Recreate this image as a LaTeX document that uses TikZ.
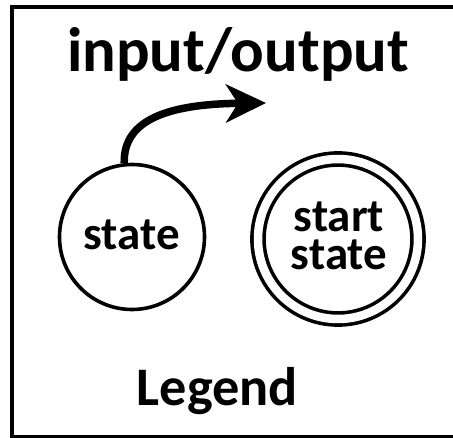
\documentclass[tikz,border=0pt]{standalone}
\usepackage{fontspec}
\setmainfont{Carlito}
\usetikzlibrary{arrows.meta}
\begin{document}
\begin{tikzpicture}[x=1pt,y=-1pt,
  statebox/.style={circle,draw,line width=3.6pt,inner sep=0pt},
  txt/.style={font=\bfseries\fontsize{47}{38}\selectfont,inner sep=0pt,anchor=base,align=center},
  bigtxt/.style={font=\bfseries\fontsize{#1}{#1}\selectfont,inner sep=0pt,anchor=base}]
\useasboundingbox (0,0) rectangle (453,438);
\draw[line width=4pt] (12,7) rectangle (480,437);
\node[statebox,minimum size=145pt] (s) at (132,237) {};
\node[statebox,minimum size=160pt,double=white,double distance=8.5pt] (ss) at (338,239) {};
\node[bigtxt=62.7] (title) at (238,72) {input/output};
\node[txt] (st) at (131.5,250) {state};
\node[txt] (sst) at (339,270) {start\\state};
\node[bigtxt=54.3] (leg) at (217.5,406) {Legend};
\coordinate (tip) at (266,103);
\draw[line width=7.5pt,-{Stealth[length=40pt,width=38pt,inset=12pt]}] (s.96) .. controls (123,118) and (172,104) .. (tip);
\end{tikzpicture}
\end{document}
